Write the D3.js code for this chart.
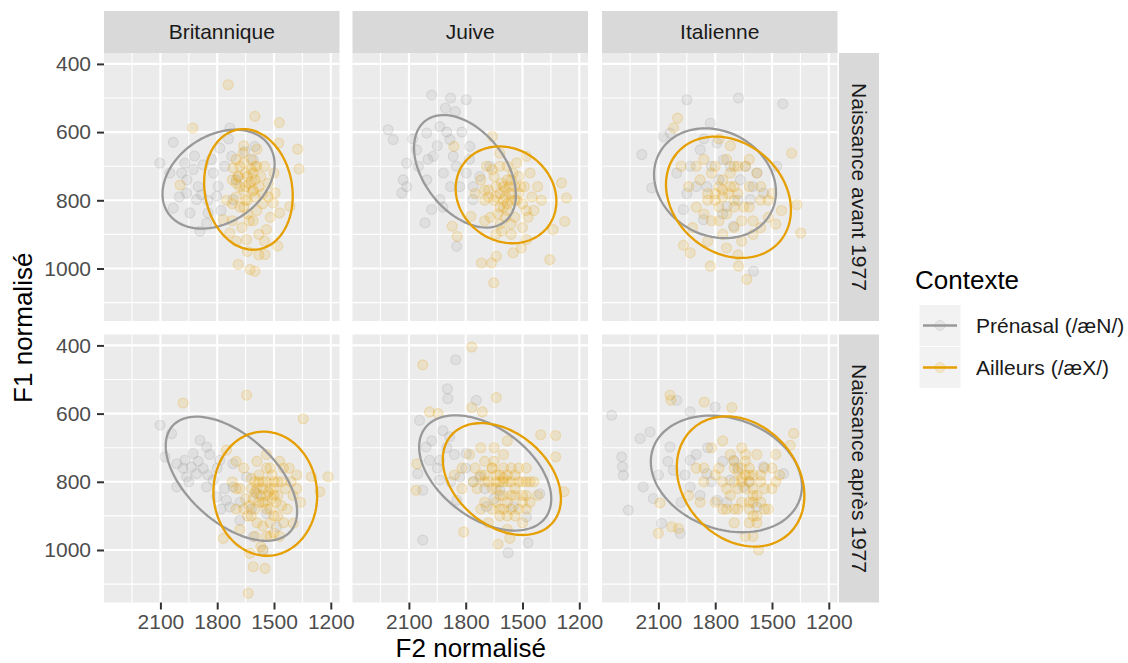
<!DOCTYPE html>
<html>
<head>
<meta charset="utf-8">
<script src="https://cdn.jsdelivr.net/npm/d3@7"></script>
<style>body{margin:0;background:#fff}</style>
</head>
<body>
<div id="chart"></div>
<script>
// facettes et contextes
var colonnes = ["Britannique", "Juive", "Italienne"];
var rangees = ["Naissance avant 1977", "Naissance après 1977"];
var contextes = ["Prénasal (/æN/)", "Ailleurs (/æX/)"];

var xDomain = [2398, 1154];
var yDomain = [368, 1154];
var xTicks = [2100, 1800, 1500, 1200];
var xMinor = [2250, 1950, 1650, 1350];
var yTicks = [400, 600, 800, 1000];
var yMinor = [500, 700, 900, 1100];

// [F2, F1] par facette
var brit_avant_pren = [[2032,630],[2103,691],[2050,720],[1988,720],[1971,691],[1927,710],[1874,696],[2032,823],[1962,779],[1909,798],[1883,784],[1891,891],[1856,867],[1803,788],[1733,588],[1786,647],[1724,671],[1654,657],[1601,642],[1821,720],[1795,759],[1716,798],[1610,681],[1848,837],[1944,837],[1760,700],[1830,680],[1900,760],[1700,740],[1960,740],[2000,790],[1850,800],[1780,830],[1920,670],[1740,620]];
var brit_avant_aill = [[1742,461],[1929,588],[1601,554],[1472,572],[1475,632],[1375,650],[1368,708],[1996,755],[1689,730],[1494,778],[1612,774],[1716,705],[1663,661],[1470,837],[1480,934],[1548,959],[1689,988],[1601,1008],[1627,1003],[1768,857],[1733,896],[1645,915],[1540,886],[1504,808],[1416,818],[1650,720],[1620,745],[1680,760],[1600,700],[1570,730],[1700,790],[1640,800],[1590,830],[1660,690],[1560,780],[1720,740],[1610,770],[1680,820],[1550,700],[1530,750],[1700,680],[1630,860],[1580,900],[1750,800],[1520,850],[1660,640],[1590,650],[1720,860],[1640,730],[1610,720],[1630,750],[1660,770],[1600,790],[1620,710],[1650,800],[1580,760],[1700,750],[1640,840],[1560,810],[1690,730],[1610,860],[1670,880],[1530,790],[1600,740],[1720,810],[1650,760],[1590,700],[1550,920],[1680,700],[1620,680],[1500,720],[1640,950],[1700,920],[1580,960],[1660,820]];
var juive_avant_pren = [[1980,491],[1880,500],[1797,505],[1907,530],[1855,540],[2210,593],[2183,622],[2112,691],[2130,740],[2138,779],[2112,760],[2059,652],[2006,603],[1936,584],[1883,622],[1971,671],[1918,720],[2006,740],[1980,827],[2015,866],[1848,935],[1866,671],[1778,642],[1831,760],[1726,730],[1762,798],[1673,700],[1936,798],[2050,700],[1797,720],[1900,600],[1950,640],[2000,680],[1850,700],[1880,760],[1920,820],[1780,680],[1820,600],[2080,620],[1760,760]];
var juive_avant_aill = [[1659,613],[1862,642],[1620,662],[1479,671],[1294,749],[1268,793],[1277,862],[1339,886],[1356,974],[1652,1042],[1717,984],[1664,984],[1638,964],[1550,954],[1506,940],[1845,906],[1871,876],[1773,847],[1479,915],[1600,760],[1560,780],[1640,790],[1580,740],[1530,800],[1620,820],[1680,770],[1510,760],[1450,790],[1700,800],[1590,850],[1650,730],[1550,720],[1480,830],[1620,700],[1720,740],[1560,870],[1420,760],[1670,850],[1500,880],[1600,800],[1540,760],[1640,760],[1580,810],[1750,780],[1690,700],[1460,720],[1530,690],[1610,890],[1590,770],[1560,800],[1620,780],[1570,760],[1600,820],[1540,800],[1650,800],[1520,780],[1610,750],[1580,830],[1630,840],[1500,810],[1560,740],[1680,790],[1700,770],[1540,850],[1470,850],[1620,870],[1580,700],[1660,710],[1440,830],[1520,730],[1590,790],[1560,900],[1490,760],[1640,900],[1700,860],[1400,800]];
var ital_avant_pren = [[1950,505],[1677,500],[1443,517],[2188,666],[2135,764],[2074,613],[2038,603],[1826,574],[1580,720],[1475,700],[1598,1008],[1968,827],[1932,700],[1879,652],[1756,681],[1668,740],[1844,760],[1738,818],[1615,798],[2003,720],[1791,632],[1545,779],[1703,876],[1862,857],[1820,700],[1780,740],[1900,760],[1720,700],[1860,620],[1680,800],[1760,840],[1640,700],[1950,780],[1600,760]];
var ital_avant_aill = [[1999,559],[2020,588],[1396,662],[1348,896],[1369,813],[1968,932],[1932,954],[1826,993],[1633,1032],[1677,993],[1800,700],[1760,740],[1720,760],[1840,780],[1700,800],[1650,820],[1780,820],[1880,740],[1620,760],[1560,800],[1740,680],[1680,700],[1900,820],[1820,860],[1700,880],[1600,860],[1520,850],[1940,760],[1660,920],[1760,900],[1860,680],[1580,720],[1500,780],[1450,830],[1780,620],[1720,640],[1980,700],[1840,920],[1620,680],[1760,790],[1700,760],[1800,780],[1730,780],[1760,770],[1700,820],[1740,840],[1680,780],[1800,800],[1660,860],[1720,720],[1780,860],[1620,820],[1860,840],[1560,760],[1740,940],[1680,960],[1600,900],[1820,720],[1900,700],[1640,700],[1520,800],[1780,760],[1840,800],[1700,700],[1920,880],[1560,880],[1480,870]];
var brit_apres_pren = [[2102,634],[2041,659],[2076,727],[2014,747],[1971,737],[1927,717],[1891,678],[1936,757],[1909,776],[1874,761],[1962,786],[2014,815],[1856,815],[1821,795],[1803,844],[1751,854],[1716,815],[1786,737],[1733,874],[1680,913],[1610,961],[1557,1000],[1487,932],[1540,893],[1592,834],[1645,786],[1856,698],[1716,747],[1980,760],[1950,800],[1900,740],[1850,780],[1800,760],[1760,820],[1680,860],[1620,880],[1840,720],[1780,880]];
var brit_apres_aill = [[1980,569],[1645,546],[1346,615],[1214,785],[1258,829],[1636,1127],[1610,1049],[1548,1054],[1627,1010],[1768,966],[1398,922],[1302,785],[1751,707],[1520,820],[1560,800],[1500,840],[1580,860],[1600,830],[1540,880],[1480,800],[1620,790],[1650,850],[1460,870],[1520,760],[1590,740],[1680,820],[1440,820],[1500,900],[1560,930],[1620,900],[1700,880],[1400,840],[1470,740],[1540,720],[1660,760],[1600,960],[1520,960],[1450,920],[1380,780],[1720,800],[1580,800],[1500,800],[1630,870],[1420,760],[1560,860],[1680,940],[1490,860],[1540,840],[1600,880],[1700,740],[1360,860],[1530,830],[1560,820],[1510,850],[1570,840],[1500,820],[1550,860],[1590,820],[1480,840],[1520,880],[1540,800],[1610,850],[1460,800],[1580,780],[1620,820],[1640,900],[1500,950],[1540,960],[1570,990],[1430,880],[1410,800],[1660,880],[1590,920],[1510,780],[1470,960],[1540,760],[1480,900],[1600,800],[1520,920],[1380,820],[1700,820],[1560,1000],[1450,760]];
var juive_apres_pren = [[1853,442],[1897,527],[1894,556],[1744,561],[2027,971],[1576,1008],[1471,979],[2044,620],[2009,698],[2053,776],[2027,825],[1938,737],[1885,668],[1797,717],[1726,786],[1620,825],[1550,873],[1479,903],[1691,873],[1831,786],[1938,795],[1409,835],[1991,737],[1848,854],[1900,700],[1950,760],[1860,720],[1800,760],[1760,800],[1700,820],[1980,680],[1880,800],[1650,850],[1920,650]];
var juive_apres_aill = [[1768,405],[2027,457],[1638,553],[1768,582],[1712,595],[1991,595],[1946,600],[1404,662],[1325,664],[1325,727],[1281,829],[1811,947],[1629,983],[1567,966],[2062,825],[2057,747],[1620,780],[1580,800],[1660,760],[1540,820],[1600,840],[1700,740],[1640,820],[1560,760],[1500,840],[1680,800],[1720,780],[1520,880],[1580,900],[1480,800],[1650,700],[1600,720],[1750,760],[1460,860],[1540,780],[1620,880],[1700,860],[1780,720],[1440,800],[1560,840],[1500,920],[1660,880],[1820,760],[1580,680],[1520,760],[1640,780],[1600,800],[1480,880],[1720,700],[1680,920],[1600,790],[1620,800],[1580,780],[1560,800],[1640,800],[1600,760],[1620,840],[1540,840],[1660,820],[1500,860],[1580,860],[1700,800],[1520,800],[1480,840],[1650,740],[1560,880],[1620,900],[1740,820],[1460,800],[1540,900],[1600,880],[1700,780],[1760,800],[1500,800],[1660,760],[1420,840],[1820,820],[1580,940],[1720,880],[1860,780],[1480,760],[1640,860]];
var ital_apres_pren = [[2347,605],[2294,727],[2290,756],[2285,781],[2259,883],[2197,673],[2144,654],[2180,815],[2127,849],[1985,951],[2083,922],[2003,561],[1932,595],[1800,581],[2039,698],[1932,737],[1844,776],[1721,795],[1791,854],[1650,815],[1545,756],[1439,776],[1580,874],[1703,737],[1932,815],[2021,766],[1900,720],[1960,780],[2050,740],[1880,840],[1820,800],[1760,740],[1680,760],[1620,800],[1840,700],[2100,780],[1980,860],[1740,860]];
var ital_apres_aill = [[2039,546],[2034,561],[1858,566],[1712,582],[2100,951],[2030,932],[1994,937],[2092,862],[1386,658],[1404,693],[1571,1000],[1700,760],[1660,800],[1620,780],[1740,820],[1600,840],[1680,880],[1560,800],[1720,720],[1780,760],[1640,740],[1580,900],[1620,920],[1500,820],[1860,800],[1800,860],[1700,920],[1540,760],[1660,700],[1900,760],[1460,780],[1760,680],[1620,860],[1680,820],[1580,720],[1820,700],[1520,880],[1640,960],[1600,960],[1480,720],[1740,880],[1940,840],[1660,760],[1660,790],[1640,820],[1620,800],[1680,770],[1600,820],[1580,840],[1560,860],[1620,880],[1600,900],[1580,920],[1640,780],[1700,800],[1720,840],[1540,820],[1660,860],[1700,740],[1760,800],[1800,780],[1860,760],[1640,720],[1560,780],[1500,760],[1760,880],[1540,880],[1600,860],[1620,760],[1700,880],[1880,860],[1480,800],[1600,780]];

// ellipses : [centre F2, centre F1, demi-etendue F2, demi-etendue F1, correlation]
var ell_pren = [[1793,738,296,145,0.30],[1804,715,269,165,-0.42],[1801,750,322,161,-0.16],[1725,791,347,182,-0.53],[1697,774,349,169,-0.45],[1741,777,399,171,-0.21]];
var ell_aill = [[1635,768,234,177,-0.11],[1587,784,266,142,-0.13],[1730,791,330,178,-0.21],[1546,835,274,182,-0.03],[1609,792,312,164,-0.35],[1666,799,337,191,-0.22]];

var couleurs = ["#999999", "#E69F00"];
var points = [
    [brit_avant_pren, juive_avant_pren, ital_avant_pren, brit_apres_pren, juive_apres_pren, ital_apres_pren],
    [brit_avant_aill, juive_avant_aill, ital_avant_aill, brit_apres_aill, juive_apres_aill, ital_apres_aill]
];
var ellipses = [ell_pren, ell_aill];

var font = "'Liberation Sans', Arial, sans-serif";
var colLeft = [104, 352.5, 602], rowTop = [53, 334.5];
var W = 235.5, H = 268;

var svg = d3.select("#chart").append("svg")
    .attr("width", 1128)
    .attr("height", 663)
    .style("font-family", font);

function ellipsePts(e) {
    var out = [];
    for (var i = 0; i < 120; i++) {
        var t = i / 120 * 2 * Math.PI;
        out.push([e[0] + e[2] * Math.cos(t), e[1] + e[3] * (e[4] * Math.cos(t) + Math.sqrt(1 - e[4] * e[4]) * Math.sin(t))]);
    }
    return out;
}

rangees.forEach(function (rowName, r) {
    colonnes.forEach(function (colName, c) {
        var idx = r * 3 + c;
        var x = d3.scaleLinear().domain(xDomain).range([colLeft[c], colLeft[c] + W]);
        var y = d3.scaleLinear().domain(yDomain).range([rowTop[r], rowTop[r] + H]);
        var g = svg.append("g");

        g.append("rect")
            .attr("x", colLeft[c]).attr("y", rowTop[r])
            .attr("width", W).attr("height", H)
            .attr("fill", "#EBEBEB");

        // grille
        g.selectAll(".vmin").data(xMinor).enter().append("line")
            .attr("x1", x).attr("x2", x).attr("y1", rowTop[r]).attr("y2", rowTop[r] + H)
            .attr("stroke", "#fff").attr("stroke-width", 1.1);
        g.selectAll(".hmin").data(yMinor).enter().append("line")
            .attr("y1", y).attr("y2", y).attr("x1", colLeft[c]).attr("x2", colLeft[c] + W)
            .attr("stroke", "#fff").attr("stroke-width", 1.1);
        g.selectAll(".vmaj").data(xTicks).enter().append("line")
            .attr("x1", x).attr("x2", x).attr("y1", rowTop[r]).attr("y2", rowTop[r] + H)
            .attr("stroke", "#fff").attr("stroke-width", 2.1);
        g.selectAll(".hmaj").data(yTicks).enter().append("line")
            .attr("y1", y).attr("y2", y).attr("x1", colLeft[c]).attr("x2", colLeft[c] + W)
            .attr("stroke", "#fff").attr("stroke-width", 2.1);

        // points
        contextes.forEach(function (ctx, k) {
            g.selectAll(".p" + k).data(points[k][idx]).enter().append("circle")
                .attr("cx", function (d) { return x(d[0]); })
                .attr("cy", function (d) { return y(d[1]); })
                .attr("r", 5)
                .attr("fill", couleurs[k]).attr("fill-opacity", 0.15)
                .attr("stroke", couleurs[k]).attr("stroke-opacity", 0.22).attr("stroke-width", 1.1);
        });

        // ellipses
        var line = d3.line()
            .x(function (d) { return x(d[0]); })
            .y(function (d) { return y(d[1]); })
            .curve(d3.curveLinearClosed);
        contextes.forEach(function (ctx, k) {
            g.append("path")
                .attr("d", line(ellipsePts(ellipses[k][idx])))
                .attr("fill", "none")
                .attr("stroke", couleurs[k])
                .attr("stroke-width", 2.3);
        });

        // axes
        if (c == 0) {
            var ay = g.append("g")
                .attr("transform", "translate(" + colLeft[c] + ",0)")
                .call(d3.axisLeft(y).tickValues(yTicks).tickFormat(d3.format("d")).tickSize(7).tickPadding(6));
            ay.select(".domain").remove();
            ay.selectAll("line").attr("stroke", "#333").attr("stroke-width", 2);
            ay.selectAll("text").attr("fill", "#4D4D4D").style("font-size", "21px").style("font-family", font);
        }
        if (r == 1) {
            var ax = g.append("g")
                .attr("transform", "translate(0," + (rowTop[r] + H) + ")")
                .call(d3.axisBottom(x).tickValues(xTicks).tickFormat(d3.format("d")).tickSize(7).tickPadding(5));
            ax.select(".domain").remove();
            ax.selectAll("line").attr("stroke", "#333").attr("stroke-width", 2);
            ax.selectAll("text").attr("fill", "#4D4D4D").style("font-size", "21px").style("font-family", font);
        }

        // bandeaux
        if (r == 0) {
            svg.append("rect")
                .attr("x", colLeft[c]).attr("y", 11)
                .attr("width", W).attr("height", 42)
                .attr("fill", "#D9D9D9");
            svg.append("text")
                .attr("x", colLeft[c] + W / 2).attr("y", 32)
                .attr("dy", "0.35em")
                .attr("text-anchor", "middle")
                .attr("fill", "#1A1A1A")
                .style("font-size", "21px")
                .text(colName);
        }
        if (c == 2) {
            svg.append("rect")
                .attr("x", 839).attr("y", rowTop[r])
                .attr("width", 40).attr("height", H)
                .attr("fill", "#D9D9D9");
            svg.append("text")
                .attr("transform", "translate(859," + (rowTop[r] + H / 2) + ") rotate(90)")
                .attr("dy", "0.35em")
                .attr("text-anchor", "middle")
                .attr("fill", "#1A1A1A")
                .style("font-size", "21px")
                .text(rowName);
        }
    });
});

// titres
svg.append("text")
    .attr("x", (colLeft[0] + colLeft[2] + W) / 2).attr("y", 657)
    .attr("text-anchor", "middle")
    .style("font-size", "26px")
    .text("F2 normalisé");
svg.append("text")
    .attr("transform", "translate(32," + (rowTop[0] + (rowTop[1] + H - rowTop[0]) / 2) + ") rotate(-90)")
    .attr("text-anchor", "middle")
    .style("font-size", "26px")
    .text("F1 normalisé");

// legende
var leg = svg.append("g");
leg.append("text")
    .attr("x", 915).attr("y", 289)
    .style("font-size", "26px")
    .text("Contexte");
contextes.forEach(function (ctx, k) {
    var ky = 304.5 + k * 42;
    leg.append("rect")
        .attr("x", 919).attr("y", ky).attr("width", 42).attr("height", 42)
        .attr("fill", "#F2F2F2").attr("stroke", "#fff").attr("stroke-width", 1);
    leg.append("circle")
        .attr("cx", 940).attr("cy", ky + 21).attr("r", 5)
        .attr("fill", couleurs[k]).attr("fill-opacity", 0.15)
        .attr("stroke", couleurs[k]).attr("stroke-opacity", 0.22);
    leg.append("line")
        .attr("x1", 923).attr("x2", 957).attr("y1", ky + 21).attr("y2", ky + 21)
        .attr("stroke", couleurs[k]).attr("stroke-width", 2.3);
    leg.append("text")
        .attr("x", 976).attr("y", ky + 21).attr("dy", "0.35em")
        .attr("fill", "#1A1A1A")
        .style("font-size", "21px")
        .text(ctx);
});
</script>
</body>
</html>
